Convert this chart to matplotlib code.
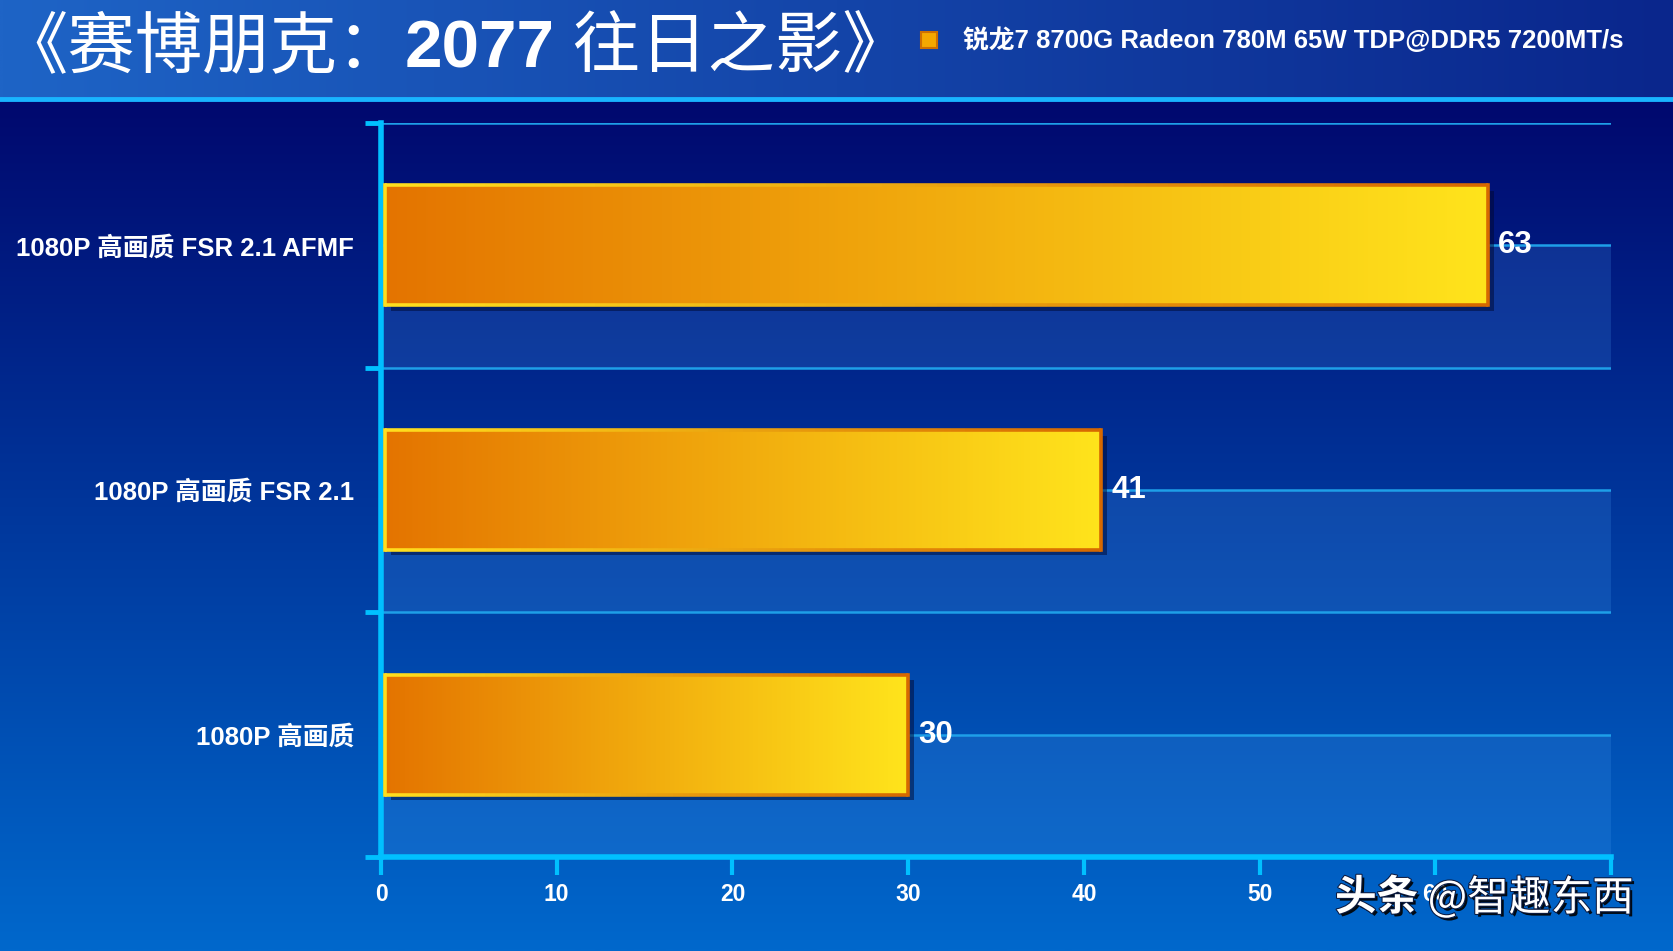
import matplotlib
matplotlib.use('Agg')
import numpy as np
import matplotlib.pyplot as plt
from matplotlib import patheffects as pe
from matplotlib.collections import LineCollection

# data
categories = ['1080P 高画质', '1080P 高画质 FSR 2.1', '1080P 高画质 FSR 2.1 AFMF']
fps = [30, 41, 63]
series_name = '锐龙7 8700G Radeon 780M 65W TDP@DDR5 7200MT/s'
title_parts = ['《赛博朋克：', '2077', ' 往日之影》']
x_ticks = [0, 10, 20, 30, 40, 50, 60, 70]
x_ticklabels = ['0', '10', '20', '30', '40', '50', '60', '']  # 70 is hidden under the watermark
watermark_parts = ['头条 ', '@智趣东西']

plt.rcParams['font.family'] = ['Liberation Sans', 'Noto Sans CJK SC', 'DejaVu Sans']
plt.rcParams['font.weight'] = 'bold'

CYAN = '#00c0ff'
GRID = '#1e9fe8'

W, H = 1674, 951
fig = plt.figure(figsize=(W / 100, H / 100), dpi=100)

# background: header band + body gradient
bg = fig.add_axes([0, 0, 1, 1], zorder=-10)
head = np.linspace([30, 100, 198], [10, 38, 140], 256)[None, :, :] / 255
bg.imshow(head, extent=[0, W, 99, 0], aspect='auto', interpolation='bilinear')
body = np.linspace([0, 8, 110], [0, 104, 204], 256)[:, None, :] / 255
bg.imshow(body, extent=[0, W, H, 99], aspect='auto', interpolation='bilinear')
bg.axhline(99, color='#19b4ff', lw=3.5)
bg.set_xlim(0, W)
bg.set_ylim(H, 0)
bg.axis('off')

ax = fig.add_axes([0.2276, 0.0989, 0.7348, 0.7718])
ax.set_facecolor('none')
y = np.arange(len(categories))

# lighter lower half of each band
for k in y:
    ax.axhspan(k - 0.5, k, color='#4a9cf0', alpha=0.2, lw=0, zorder=0.3)

bars = ax.barh(y, fps, height=0.49, left=0.25, color='#ec9a08', zorder=4,
               path_effects=[pe.SimplePatchShadow(offset=(4, -4), shadow_rgbFace='#000830', alpha=0.5),
                             pe.Normal()])

fill = np.linspace([228, 116, 0], [255, 228, 28], 256)[None, :, :] / 255
edge_cols = np.linspace([255, 222, 30], [214, 104, 0], 100) / 255
for b, v in zip(bars, fps):
    x0, y0, w, h = b.get_x(), b.get_y(), v - b.get_x(), b.get_height()
    b.set_width(w)
    im = ax.imshow(fill, extent=[x0, x0 + w, y0, y0 + h], aspect='auto',
                   zorder=5, interpolation='bilinear')
    im.set_clip_path(b)
    xs = np.linspace(x0, x0 + w, 101)
    segs = [[(xs[i], yy), (xs[i + 1], yy)] for yy in (y0, y0 + h) for i in range(100)]
    cols = np.vstack([edge_cols, edge_cols])
    ax.add_collection(LineCollection(segs, colors=cols, linewidths=2.6, zorder=6))
    ax.plot([x0, x0], [y0, y0 + h], color=edge_cols[0], lw=2.6, zorder=6)
    ax.plot([x0 + w, x0 + w], [y0, y0 + h], color=edge_cols[-1], lw=2.6, zorder=6)
    ax.annotate(str(v), (x0 + w, y0 + h / 2), xytext=(7, 0),
                textcoords='offset points', ha='left', va='center',
                color='white', fontsize=22.5, fontweight='bold', zorder=7)

ax.set_xlim(0, 70)
ax.set_ylim(-0.5, 2.5)
ax.set_xticks(x_ticks)
ax.set_xticklabels(x_ticklabels)
ax.set_yticks(y)
ax.set_yticklabels(categories)
ax.set_yticks(np.arange(-0.5, 2.6, 1), minor=True)
ax.tick_params(axis='y', which='major', length=0, pad=19.5, labelcolor='white', labelsize=18.5)
ax.tick_params(axis='y', which='minor', length=11.5, width=3.5, color=CYAN, direction='out')
ax.tick_params(axis='x', length=13, width=3, color=CYAN, pad=6, labelcolor='white', labelsize=16.5)
for s in ('top', 'right'):
    ax.spines[s].set_visible(False)
for s in ('left', 'bottom'):
    ax.spines[s].set_color(CYAN)
    ax.spines[s].set_linewidth(4)
ax.set_axisbelow(True)
ax.grid(axis='y', which='both', color=GRID, lw=1.8)
ax.grid(axis='x', visible=False)

fig.canvas.draw()
r = fig.canvas.get_renderer()


def text_run(x, yb, parts, weights, **kw):
    """draw consecutive text pieces with different weights"""
    for part, wt in zip(parts, weights):
        t = fig.text(x, yb, part, fontweight=wt, **kw)
        x = fig.transFigure.inverted().transform((t.get_window_extent(r).x1, 0))[0]
    return x


# title in three pieces (bold digits, regular CJK)
text_run(0.0, 1 - 67 / H, title_parts, ['normal', 'bold', 'normal'],
         color='white', fontsize=48.5, va='baseline',
         family=['Liberation Sans', 'Noto Sans CJK SC'])

# legend
fig.patches.append(plt.Rectangle((921 / W, 1 - 48 / H), 16 / W, 16 / H, transform=fig.transFigure,
                                 facecolor='#f5a800', edgecolor='#d07000', lw=1.5))
fig.text(963 / W, 1 - 40 / H, series_name, color='white', fontsize=18.5, fontweight='bold', va='center')

# watermark
text_run(1335 / W, 1 - 898 / H, watermark_parts, ['bold', 'normal'],
         color='white', fontsize=30, va='center', zorder=20,
         family=['Noto Sans CJK SC', 'DejaVu Sans'],
         path_effects=[pe.withSimplePatchShadow(offset=(2, -2), shadow_rgbFace='black', alpha=0.9),
                       pe.Stroke(linewidth=1.5, foreground='#0b1a40'), pe.Normal()])

fig.savefig('out.png', dpi=100)
